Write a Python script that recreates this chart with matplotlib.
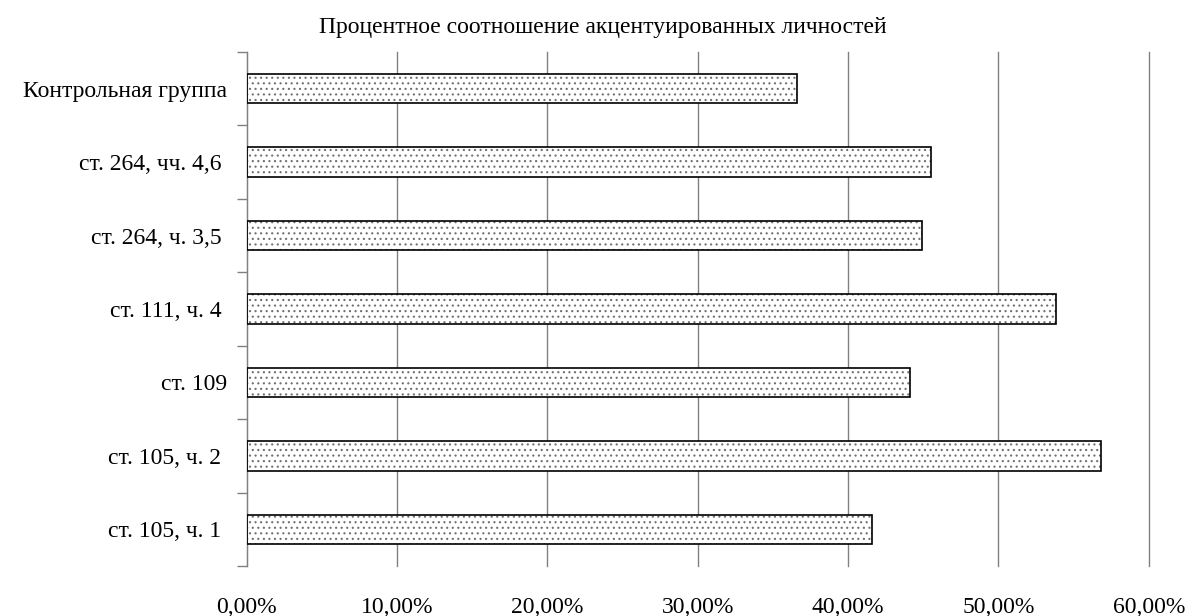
import matplotlib

matplotlib.use("Agg")
import matplotlib.pyplot as plt
from matplotlib.ticker import FuncFormatter

# Data (bottom to top, as drawn)
groups = [
    "ст. 105, ч. 1 ",
    "ст. 105, ч. 2 ",
    "ст. 109",
    "ст. 111, ч. 4 ",
    "ст. 264, ч. 3,5 ",
    "ст. 264, чч. 4,6 ",
    "Контрольная группа",
]
shares = [41.6, 56.8, 44.1, 53.8, 44.9, 45.5, 36.6]
x_ticks = [0, 10, 20, 30, 40, 50, 60]

plt.rcParams["font.family"] = ["Liberation Serif", "DejaVu Serif"]
plt.rcParams["hatch.linewidth"] = 0.8

fig = plt.figure(figsize=(11.86, 6.16), dpi=100)
ax = fig.add_axes([0.208, 0.0812, 0.7606, 0.8344])

pos = list(range(len(groups)))

# dotted fill, then the black outline on top
ax.barh(pos, shares, height=0.4, color="white", edgecolor="#707070",
        hatch="...", linewidth=0, zorder=2)
ax.barh(pos, shares, height=0.4, fill=False, edgecolor="black",
        linewidth=1.2, zorder=3)

ax.set_xlim(0, 60)
ax.set_ylim(-0.5, len(groups) - 0.5)
ax.set_xticks(x_ticks)
ax.xaxis.set_major_formatter(FuncFormatter(lambda v, p: f"{v:.2f}%".replace(".", ",")))
ax.tick_params(axis="x", length=0, pad=22, labelsize=17)
ax.grid(axis="x", color="#808080", linewidth=1, zorder=1)
for line in ax.get_xgridlines():
    line.set_clip_on(False)

ax.set_yticks(pos)
ax.set_yticklabels(groups)
ax.set_yticks([p - 0.5 for p in range(len(groups) + 1)], minor=True)
ax.tick_params(axis="y", which="major", length=0, pad=14, labelsize=17)
ax.tick_params(axis="y", which="minor", length=7, color="#808080", width=1)

for side in ["top", "right", "bottom"]:
    ax.spines[side].set_visible(False)
ax.spines["left"].set_color("#808080")

fig.text(0.5085, 0.955, "Процентное соотношение акцентуированных личностей",
         ha="center", va="center", fontsize=17)

fig.savefig("out.png", dpi=100)
